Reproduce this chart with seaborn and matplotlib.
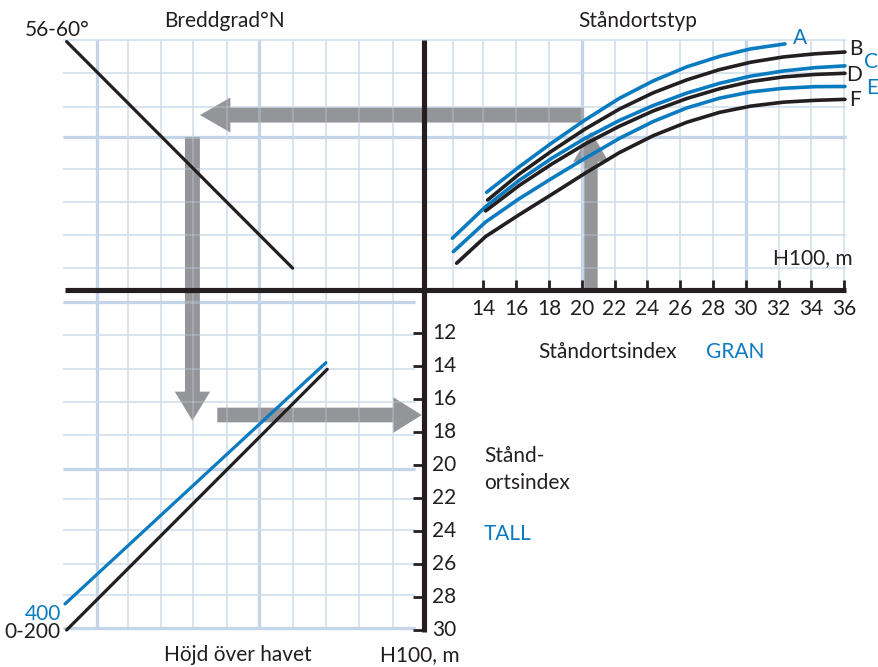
import numpy as np
import pandas as pd
import matplotlib
matplotlib.use("Agg")
import matplotlib.pyplot as plt
import seaborn as sns

# --- data --------------------------------------------------------------
# upper right: standortstyp curves, x = standortsindex GRAN, h = H100 (grid units above axis)
types = ["A", "B", "C", "D", "E", "F"]
a_x = [14.2, 16.17, 18.17, 20.2, 22.29, 24.36, 26.4, 28.39, 30.3, 32.39]
a_h = [5.92, 7.45, 8.91, 10.30, 11.61, 12.67, 13.52, 14.15, 14.61, 14.91]
b_x = [14.26, 16.17, 18.17, 20.2, 22.29, 24.36, 26.4, 28.39, 30.3, 32.29, 34.22, 36.05]
b_h = [5.45, 7.01, 8.42, 9.75, 10.96, 11.95, 12.73, 13.35, 13.80, 14.12, 14.31, 14.42]
c_x = [12.11, 14.14, 16.17, 18.17, 20.2, 22.29, 24.36, 26.4, 28.39, 30.3, 32.29, 34.22, 36.05]
c_h = [3.13, 5.05, 6.63, 7.98, 9.19, 10.27, 11.18, 11.93, 12.52, 12.96, 13.27, 13.47, 13.58]
d_x = [14.14, 16.17, 18.17, 20.2, 22.29, 24.36, 26.4, 28.39, 30.3, 32.29, 34.22, 36.05]
d_h = [4.79, 6.32, 7.63, 8.84, 9.92, 10.85, 11.60, 12.19, 12.63, 12.91, 13.06, 13.13]
e_x = [12.17, 14.14, 16.17, 18.17, 20.2, 22.29, 24.36, 26.4, 28.39, 30.3, 32.29, 34.22, 36.05]
e_h = [2.32, 4.12, 5.52, 6.76, 7.98, 9.18, 10.21, 11.03, 11.62, 12.0, 12.22, 12.32, 12.33]
f_x = [12.37, 14.14, 16.17, 18.17, 20.2, 22.29, 24.36, 26.4, 28.39, 30.3, 32.29, 34.22, 36.05]
f_h = [1.62, 3.24, 4.55, 5.79, 7.07, 8.32, 9.35, 10.16, 10.76, 11.14, 11.38, 11.49, 11.55]

# upper left: breddgrad line
lat_x = [-11.41, 2.37]
lat_h = [15.05, 1.32]

# lower left: hojd over havet, y = standortsindex TALL
alt_labels = ["400", "0-200"]
alt400_x = [-11.51, 4.40]
alt400_tall = [28.42, 13.8]
alt0_x = [-11.41, 4.48]
alt0_tall = [30.0, 14.2]

gran_ticks = list(range(14, 37, 2))
tall_ticks = list(range(12, 31, 2))

# example reading shown by the arrows
ex_gran = 20.56
ex_h = 10.6
ex_lat_x = -3.74
ex_tall = 16.97

BLUE = "#0b7bc1"
BLACK = "#231f20"
GRAY = "#939598"
GRID = "#d3dfec"
GRID_THICK = "#c4d5e7"

# pixel -> data helpers (layout only)
X0 = 10.38   # GRAN value under the main vertical axis
Y0 = 9.39    # TALL value under the main horizontal axis
def X(px):
    return X0 + (px - 424) / 16.4
def Y(py):
    return 12 + (py - 333) / 16.5
def up(h):
    return Y0 - np.asarray(h)

sns.set_theme(style="white")
plt.rcParams["font.family"] = ["Lato", "DejaVu Sans"]

fig = plt.figure(figsize=(8.79, 6.67), dpi=100)
ax = fig.add_axes([0, 0, 1, 1])
ax.set_xlim(X(0), X(879))
ax.set_ylim(Y(667), Y(0))
ax.axis("off")

# --- grid ---
gran_grid = [12.15] + gran_ticks
h_grid = [1.33, 3.33, 5.33, 7.33, 9.27, 11.1, 13.15, 15.15]
left_grid = [-9.56, -7.67, -5.66, -3.71, -1.63, 0.32, 2.39, 4.40, 6.42, 8.49]
tall_grid = [10.1, 12.12, 14.18, 16.18, 18.18, 20.24, 22.06, 23.94, 26.0, 27.88, 29.9]

def gl(xx, yy, thick, z, alpha):
    ax.plot(xx, yy, color=GRID_THICK if thick else GRID, lw=2.3 if thick else 1.1,
            zorder=z, alpha=alpha, solid_capstyle="butt")

def draw_grid(z, alpha):
    top = up(15.15)
    for g in gran_grid:
        gl([g, g], [top, Y0], g in (20, 30), z, alpha)
    for h in h_grid:
        gl([X0, 36.1], [up(h), up(h)], h == 9.27, z, alpha)
        gl([X(63), X0], [up(h), up(h)], h == 9.27, z, alpha)
    for g in left_grid:
        gl([g, g], [top, 29.9], g in (-9.56, 0.32), z, alpha)
    for t in tall_grid:
        gl([X(63), X(415)], [t, t], t in (10.1, 20.24, 29.9), z, alpha)

draw_grid(1, 1.0)

# --- arrows ---
akw = dict(color=GRAY, lw=0, length_includes_head=True, zorder=2)
ax.arrow(ex_gran - 0.42, up(ex_h), X(200) - (ex_gran - 0.42), 0,
         width=0.91, head_width=2.12, head_length=1.85, **akw)
ax.arrow(ex_lat_x, Y(137), 0, Y(420.7) - Y(137),
         width=0.91, head_width=2.16, head_length=1.76, **akw)
ax.arrow(X(217.3), ex_tall, X(421.7) - X(217.3), 0,
         width=0.89, head_width=2.16, head_length=1.73, **akw)
ax.arrow(ex_gran, Y0, 0, Y(131.7) - Y0,
         width=0.82, head_width=2.16, head_length=1.82, **akw)

draw_grid(3, 0.35)

# --- curves ---
xs = [a_x, b_x, c_x, d_x, e_x, f_x]
hs = [a_h, b_h, c_h, d_h, e_h, f_h]
curves = pd.concat([pd.DataFrame({"gran": x, "y": up(h), "typ": t})
                    for x, h, t in zip(xs, hs, types)])
pal = {t: (BLUE if i % 2 == 0 else BLACK) for i, t in enumerate(types)}
sns.lineplot(data=curves, x="gran", y="y", hue="typ", palette=pal, lw=2.6,
             legend=False, sort=False, estimator=None, ax=ax, zorder=5)

lat = pd.DataFrame({"x": lat_x, "y": up(lat_h)})
sns.lineplot(data=lat, x="x", y="y", color=BLACK, lw=2.3, ax=ax, zorder=5,
             sort=False, estimator=None)

alt = pd.concat([pd.DataFrame({"x": alt400_x, "tall": alt400_tall, "hojd": "400"}),
                 pd.DataFrame({"x": alt0_x, "tall": alt0_tall, "hojd": "0-200"})])
sns.lineplot(data=alt, x="x", y="tall", hue="hojd", palette={"400": BLUE, "0-200": BLACK},
             lw=2.3, legend=False, sort=False, estimator=None, ax=ax, zorder=5)
ax.set_xlabel("")
ax.set_ylabel("")

# --- main axes and ticks ---
ax.plot([X0, X0], [up(15.15), Y(632)], color=BLACK, lw=3.7, zorder=6, solid_capstyle="butt")
ax.plot([X(65), X(846)], [Y0, Y0], color=BLACK, lw=3.7, zorder=6, solid_capstyle="butt")
for g in gran_ticks:
    ax.plot([g, g], [Y0, Y0 - 0.6], color=BLACK, lw=2.0, zorder=6, solid_capstyle="butt")
for t in tall_ticks:
    ax.plot([X0 - 0.65, X0], [t, t], color=BLACK, lw=2.0, zorder=6, solid_capstyle="butt")

fs = 15
for g in gran_ticks:
    ax.text(g, Y(309.5), str(g), ha="center", va="center", fontsize=fs, color=BLACK)
for t in tall_ticks:
    ax.text(X(432), t, str(t), ha="left", va="center", fontsize=fs, color=BLACK)

# --- labels ---
def lab(px, py, s, ha="center", color=BLACK, size=fs):
    ax.text(X(px), Y(py), s, ha=ha, va="center", fontsize=size, color=color)

lab(224, 21, "Breddgrad°N")
lab(90, 30, "56-60°", ha="right")
lab(638, 21, "Ståndortstyp")
lab(853, 258, "H100, m", ha="right")
label_pos = [(800, 38.5), (855.5, 49.5), (871, 62), (854.5, 75), (872, 88), (855.5, 100)]
for t, (px, py) in zip(types, label_pos):
    lab(px, py, t, color=pal[t], size=15)
lab(538, 352, "Ståndortsindex", ha="left")
lab(706, 352, "GRAN", ha="left", color=BLUE)
lab(484, 456, "Stånd-", ha="left")
lab(484, 483, "ortsindex", ha="left")
lab(484, 534, "TALL", ha="left", color=BLUE)
lab(61, 614, alt_labels[0], ha="right", color=BLUE)
lab(61, 632, alt_labels[1], ha="right")
lab(238, 655, "Höjd över havet")
lab(380, 655, "H100, m", ha="left")

fig.savefig("out.png", dpi=100, facecolor="white")
